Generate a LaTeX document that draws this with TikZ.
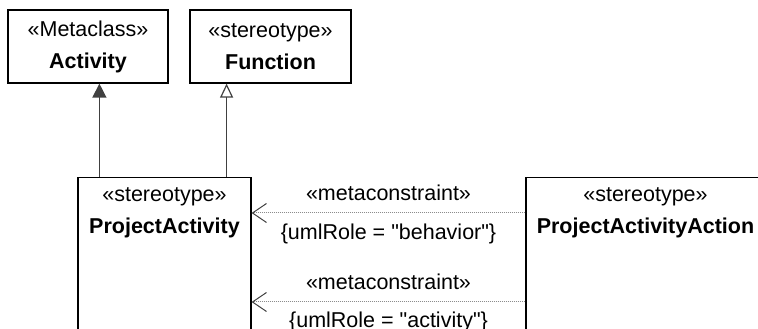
\documentclass[tikz,border=0pt]{standalone}
\usepackage{fontspec}
\setmainfont{Liberation Sans}
\usetikzlibrary{positioning,arrows.meta}

\begin{document}
\begin{tikzpicture}[x=1pt,y=1pt,font=\fontsize{21.5}{32}\selectfont,
  umlbox/.style={draw,line width=1.2pt,align=center,inner sep=0pt},
  gen/.style={draw=black!75,line width=1.2pt},
  genfill/.style={gen,-{Triangle[length=14pt,width=14pt,fill=black!75]}},
  genopen/.style={gen,-{Triangle[open,length=14pt,width=13pt,fill=white]}},
  meta/.style={draw=black!45,line width=1pt,densely dotted,
    -{Straight Barb[length=14pt,width=19pt,line width=1pt,color=black!75]}},
  lbl/.style={inner sep=0pt}]
  \useasboundingbox (0,0) rectangle (758,329);
  \clip (0,0) rectangle (758,329);
  % metaclass and stereotypes
  \node[umlbox,minimum width=160,minimum height=73] (act) at (88,282.5) {«Metaclass»\\\textbf{Activity}};
  \node[umlbox,minimum width=161,minimum height=73] (fun) at (270.5,282.5) {«stereotype»\\\textbf{Function}};
  \node[umlbox,minimum width=173,minimum height=200,anchor=north] (pa) at (164.5,152) {};
  \node[lbl,align=center] (patxt) at ([yshift=-35.5]pa.north) {«stereotype»\\\textbf{ProjectActivity}};
  \node[umlbox,minimum width=239,minimum height=200,anchor=north] (paa) at (645.5,152) {};
  \node[lbl,align=center] (paatxt) at ([yshift=-35.5]paa.north) {«stereotype»\\\textbf{ProjectActivityAction}};
  % generalizations
  \draw[genfill] ([xshift=22]pa.north west) -- ([xshift=22]pa.north west |- act.south);
  \draw[genopen] ([xshift=-25]pa.north east) -- ([xshift=-25]pa.north east |- fun.south);
  % metaconstraints
  \draw[meta] ([yshift=-36]paa.north west) -- ([yshift=-36]pa.north east)
    node[lbl,midway,above=12pt] (mc1) {«metaconstraint»}
    node[lbl,midway,below=10pt] (role1) {\{umlRole = \textquotedbl behavior\textquotedbl\}};
  \draw[meta] ([yshift=-125]paa.north west) -- ([yshift=-125]pa.north east)
    node[lbl,midway,above=12pt] (mc2) {«metaconstraint»}
    node[lbl,midway,below=9pt] (role2) {\{umlRole = \textquotedbl activity\textquotedbl\}};
\end{tikzpicture}
\end{document}
